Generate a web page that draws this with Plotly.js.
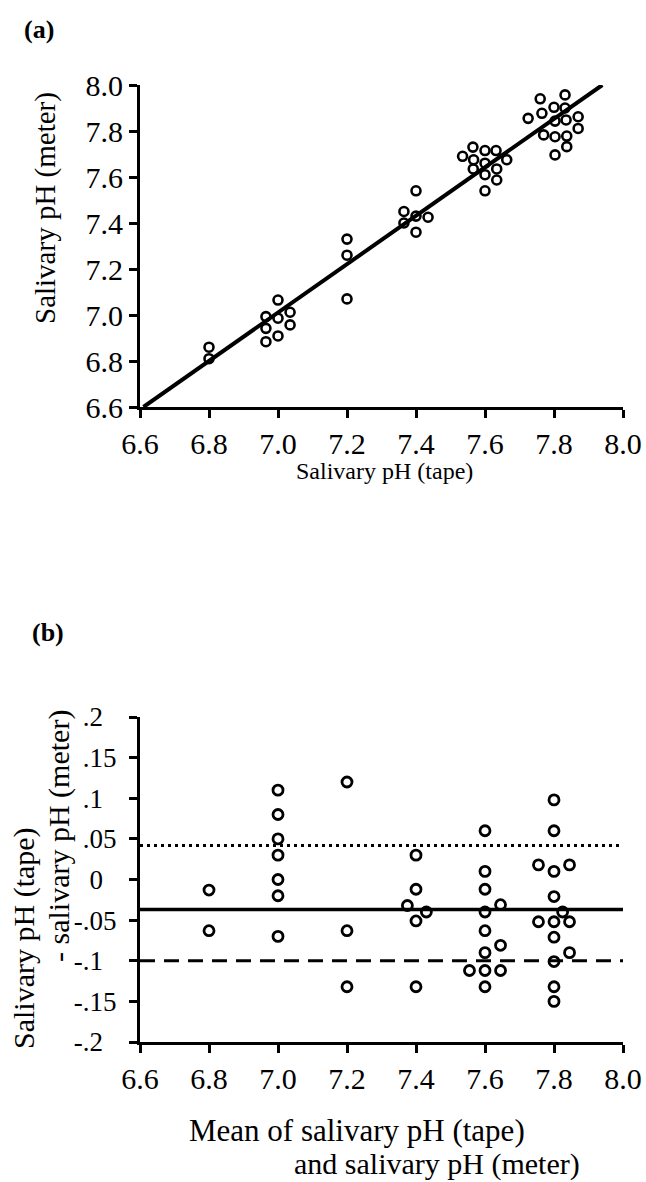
<!DOCTYPE html>
<html>
<head>
<meta charset="utf-8">
<script src="https://cdn.plot.ly/plotly-3.0.1.min.js"></script>
<style>html,body{margin:0;padding:0;background:#fff;}#chart{width:646px;height:1182px;}</style>
</head>
<body>
<div id="chart"></div>
<script>
// ---------- Panel (a): salivary pH meter vs tape ----------
var tapeA = [6.80, 6.80,
  7.00, 6.965, 7.035, 7.00, 6.965, 7.035, 7.00, 6.965,
  7.20, 7.20, 7.20,
  7.40, 7.365, 7.40, 7.435, 7.365, 7.40,
  7.565, 7.535, 7.60, 7.632, 7.663, 7.567, 7.60, 7.566, 7.634, 7.60, 7.634, 7.60,
  7.76, 7.832, 7.765, 7.80, 7.832, 7.725, 7.803, 7.835, 7.87, 7.87, 7.77, 7.803, 7.837, 7.837, 7.803];
var meterA = [6.86, 6.81,
  7.065, 6.993, 7.012, 6.986, 6.942, 6.957, 6.909, 6.884,
  7.33, 7.26, 7.07,
  7.54, 7.45, 7.43, 7.425, 7.40, 7.36,
  7.73, 7.69, 7.715, 7.715, 7.675, 7.675, 7.66, 7.635, 7.635, 7.61, 7.587, 7.54,
  7.94, 7.957, 7.877, 7.903, 7.90, 7.855, 7.843, 7.848, 7.862, 7.811, 7.783, 7.775, 7.778, 7.732, 7.696];
var regX = [6.61, 7.94];
var regY = [6.60, 8.00];

// ---------- Panel (b): Bland-Altman ----------
var meanB = [6.80, 6.80,
  7.00, 7.00, 7.00, 7.00, 7.00, 7.00, 7.00,
  7.20, 7.20, 7.20,
  7.40, 7.40, 7.375, 7.43, 7.40, 7.40,
  7.60, 7.60, 7.60, 7.645, 7.60, 7.60, 7.645, 7.60, 7.555, 7.60, 7.645, 7.60,
  7.80, 7.80, 7.755, 7.80, 7.845, 7.80, 7.825, 7.755, 7.80, 7.845, 7.80, 7.845, 7.80, 7.80, 7.80];
var diffB = [-0.013, -0.063,
  0.11, 0.08, 0.05, 0.03, 0.0, -0.02, -0.07,
  0.12, -0.063, -0.132,
  0.03, -0.012, -0.032, -0.04, -0.051, -0.132,
  0.06, 0.01, -0.012, -0.031, -0.04, -0.063, -0.081, -0.09, -0.112, -0.112, -0.112, -0.132,
  0.098, 0.06, 0.018, 0.01, 0.018, -0.021, -0.04, -0.052, -0.052, -0.052, -0.071, -0.09, -0.101, -0.132, -0.15];
var meanDiff = -0.037;
var upperLimit = 0.042;
var lowerLimit = -0.10;
var lineSpan = [6.6, 8.0];

var xTicks = [6.6, 6.8, 7.0, 7.2, 7.4, 7.6, 7.8, 8.0];
var xTickText = ['6.6', '6.8', '7.0', '7.2', '7.4', '7.6', '7.8', '8.0'];
var bTicks = [0.2, 0.15, 0.1, 0.05, 0, -0.05, -0.1, -0.15, -0.2];
var bTickText = ['.2', '.15', '.1', '.05', '0', '-.05', '-.1', '-.15', '-.2'];

var FONT = 'Liberation Serif';
var W = 646, H = 1182;
function px(x) { return x / W; }
function py(y) { return 1 - y / H; }
// pad short labels on the right so they sit like the original
var NB = '\u00A0\u00A0';
var bTickShown = bTickText.map(function (t) { return t.replace(/[^0-9]/g, '').length < 2 ? t + NB : t; });

var traces = [
  {x: regX, y: regY, mode: 'lines', line: {color: 'black', width: 4}, xaxis: 'x', yaxis: 'y', hoverinfo: 'skip'},
  {x: tapeA, y: meterA, mode: 'markers', xaxis: 'x', yaxis: 'y',
   marker: {symbol: 'circle-open', size: 9, color: 'black', line: {width: 2.6}}},
  {x: lineSpan, y: [upperLimit, upperLimit], mode: 'lines', line: {color: 'black', width: 3, dash: '3px,4px'}, xaxis: 'x2', yaxis: 'y2'},
  {x: lineSpan, y: [meanDiff, meanDiff], mode: 'lines', line: {color: 'black', width: 3.5}, xaxis: 'x2', yaxis: 'y2'},
  {x: lineSpan, y: [lowerLimit, lowerLimit], mode: 'lines', line: {color: 'black', width: 3, dash: '15px,9px'}, xaxis: 'x2', yaxis: 'y2'},
  {x: meanB, y: diffB, mode: 'markers', xaxis: 'x2', yaxis: 'y2',
   marker: {symbol: 'circle-open', size: 10, color: 'black', line: {width: 2.8}}}
];

var axisCommon = {
  showline: true, linecolor: 'black', linewidth: 3,
  ticks: 'outside', ticklen: 8, tickwidth: 3, tickcolor: 'black',
  showgrid: false, zeroline: false,
  tickfont: {family: FONT, size: 30, color: 'black'}
};
function ax(extra) { return Object.assign({}, axisCommon, extra); }

var layout = {
  width: W, height: H,
  margin: {l: 0, r: 0, t: 0, b: 0},
  paper_bgcolor: 'white', plot_bgcolor: 'white',
  showlegend: false,
  xaxis: ax({domain: [px(140), px(623)], range: [6.6, 8.0], anchor: 'y', tickvals: xTicks, ticktext: xTickText}),
  yaxis: ax({domain: [py(407), py(85)], range: [6.6, 8.0], anchor: 'x', tickvals: xTicks, ticktext: xTickText}),
  xaxis2: ax({domain: [px(140), px(623)], range: [6.6, 8.0], anchor: 'y2', tickvals: xTicks, ticktext: xTickText}),
  yaxis2: ax({domain: [py(1042), py(717)], range: [-0.2, 0.2], anchor: 'x2', tickvals: bTicks, ticktext: bTickShown,
    ticklabelstandoff: 7, tickfont: {family: FONT, size: 27, color: 'black'}}),
  annotations: [
    {text: '<b>(a)</b>', x: px(39), y: py(30), xref: 'paper', yref: 'paper', showarrow: false, xanchor: 'center', yanchor: 'middle', font: {family: FONT, size: 26, color: 'black'}},
    {text: '<b>(b)</b>', x: px(48), y: py(632), xref: 'paper', yref: 'paper', showarrow: false, xanchor: 'center', yanchor: 'middle', font: {family: FONT, size: 26, color: 'black'}},
    {text: 'Salivary pH (meter)', x: px(45), y: py(208), xref: 'paper', yref: 'paper', showarrow: false, textangle: -90, xanchor: 'center', yanchor: 'middle', font: {family: FONT, size: 29, color: 'black'}},
    {text: 'Salivary pH (tape)', x: px(384), y: py(471), xref: 'paper', yref: 'paper', showarrow: false, xanchor: 'center', yanchor: 'middle', font: {family: FONT, size: 24, color: 'black'}},
    {text: 'Salivary pH (tape)', x: px(24), y: py(938), xref: 'paper', yref: 'paper', showarrow: false, textangle: -90, xanchor: 'center', yanchor: 'middle', font: {family: FONT, size: 30, color: 'black'}},
    {text: '- salivary pH (meter)', x: px(59), y: py(836), xref: 'paper', yref: 'paper', showarrow: false, textangle: -90, xanchor: 'center', yanchor: 'middle', font: {family: FONT, size: 30, color: 'black'}},
    {text: 'Mean of salivary pH (tape)', x: px(187), y: py(1130), xref: 'paper', yref: 'paper', showarrow: false, xanchor: 'left', yanchor: 'middle', font: {family: FONT, size: 31, color: 'black'}},
    {text: 'and salivary pH (meter)', x: px(292), y: py(1164), xref: 'paper', yref: 'paper', showarrow: false, xanchor: 'left', yanchor: 'middle', font: {family: FONT, size: 30, color: 'black'}}
  ]
};

Plotly.newPlot('chart', traces, layout, {staticPlot: true, displayModeBar: false});
</script>
</body>
</html>
